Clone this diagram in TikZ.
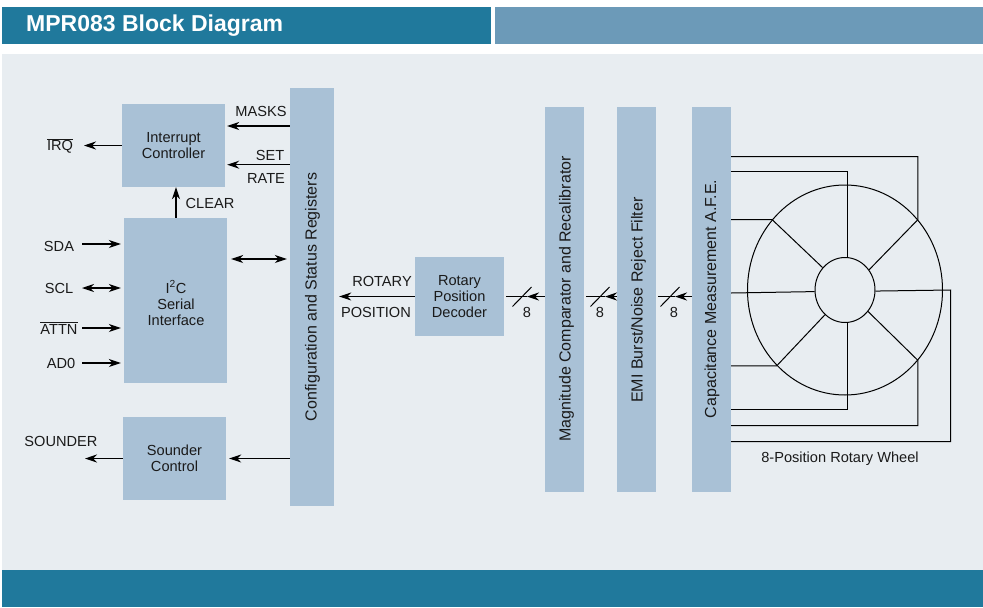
\documentclass[tikz,border=0pt]{standalone}
\usepackage{fontspec}
\setmainfont{Liberation Sans}
\usetikzlibrary{arrows.meta,positioning,shapes.geometric}
\definecolor{headblue}{HTML}{20799C}
\definecolor{headpale}{HTML}{6C9AB8}
\definecolor{panelgrey}{HTML}{E8EDF1}
\definecolor{blockblue}{HTML}{A9C1D6}
\definecolor{inkgrey}{HTML}{1A1A1A}
\tikzset{
    block/.style={fill=blockblue, inner sep=0pt, align=center, font=\fontsize{14.6}{16}\selectfont, text=inkgrey},
    tag/.style={inner sep=0pt, font=\fontsize{14.6}{16}\selectfont, text=inkgrey},
    sidetag/.style={inner sep=0pt, rotate=90, font=\fontsize{16}{18}\selectfont, text=inkgrey},
    sig/.style={draw=black, line width=1.2pt, -{Stealth[length=12pt,width=8pt]}},
    sigboth/.style={draw=black, line width=1.2pt, {Stealth[length=12pt,width=8pt]}-{Stealth[length=12pt,width=8pt]}},
    wire/.style={draw=black, line width=1pt},
    band/.style={inner sep=0pt, minimum height=37pt}
}

\begin{document}
\begin{tikzpicture}[x=1pt, y=-1pt]
    \useasboundingbox (0, 0) rectangle (983, 608);

    % Header and panel
    \fill[panelgrey] (2, 54) rectangle (983, 570);
    \node[band, fill=headblue, minimum width=489pt] (headleft) at (246.5, 25.5) {};
    \node[band, fill=headpale, minimum width=488pt] (headright) at (739, 25.5) {};
    \node[band, fill=headblue, minimum width=981pt] (foot) at (492.5, 588.5) {};
    \node[inner sep=0pt, anchor=west, text=white, font=\fontsize{23}{26}\selectfont\bfseries] (title) at (26, 25.5) {MPR083 Block Diagram};

    % Blocks
    \node[block, minimum width=103pt, minimum height=83pt] (intc) at (173.5, 145.5) {Interrupt\\Controller};
    \node[block, minimum width=103pt, minimum height=165pt] (iic) at (175.5, 300.5) {};
    \node[tag, align=center] (iictext) at (176, 303) {I\textsuperscript{2}C\\Serial\\Interface};
    \node[block, minimum width=103pt, minimum height=83pt] (snd) at (174.5, 458.5) {Sounder\\Control};
    \node[block, minimum width=44pt, minimum height=418pt] (cfg) at (312, 297) {};
    \node[sidetag] (cfgtext) at (312.5, 297) {Configuration and Status Registers};
    \node[block, minimum width=89pt, minimum height=79pt] (dec) at (459.5, 296.5) {Rotary\\Position\\Decoder};
    \node[block, minimum width=39pt, minimum height=385pt] (mag) at (564.5, 299.5) {};
    \node[sidetag] (magtext) at (566.5, 299) {Magnitude Comparator and Recalibrator};
    \node[block, minimum width=39pt, minimum height=385pt] (emi) at (636.5, 299.5) {};
    \node[sidetag] (emitext) at (638.5, 300) {EMI Burst/Noise Reject Filter};
    \node[block, minimum width=39pt, minimum height=385pt] (afe) at (711.5, 299.5) {};
    \node[sidetag] (afetext) at (712, 299) {Capacitance Measurement A.F.E.};

    % Pin labels
    \node[tag] (irq) at (60, 146) {$\overline{\mbox{IRQ}}$};
    \node[tag] (sda) at (59, 246) {SDA};
    \node[tag] (scl) at (59, 288) {SCL};
    \node[tag] (attn) at (59, 328) {$\overline{\mbox{ATTN}}$};
    \node[tag] (adr) at (61, 363) {AD0};
    \node[tag] (sounder) at (61, 441) {SOUNDER};

    % Signal labels
    \node[tag] (masks) at (261, 111) {MASKS};
    \node[tag] (set) at (270, 155) {SET};
    \node[tag] (rate) at (266, 178) {RATE};
    \node[tag] (clear) at (210, 203.5) {CLEAR};
    \node[tag] (rotary) at (382, 281) {ROTARY};
    \node[tag] (position) at (376, 312) {POSITION};

    % Pins
    \coordinate (irqend) at (84, 145.5);
    \coordinate (sdaend) at (82, 244);
    \coordinate (sclend) at (82, 288);
    \coordinate (attnend) at (82, 328);
    \coordinate (adrend) at (82, 363);
    \coordinate (sndend) at (85, 458.5);
    \draw[sig] (intc.west) -- (irqend);
    \draw[sig] (sdaend) -- ([xshift=-3pt]iic.west |- sdaend);
    \draw[sigboth] (sclend) -- ([xshift=-3pt]iic.west |- sclend);
    \draw[sig] (attnend) -- ([xshift=-3pt]iic.west |- attnend);
    \draw[sig] (adrend) -- ([xshift=-3pt]iic.west |- adrend);
    \draw[sig] (snd.west) -- (sndend);

    % Register connections
    \coordinate (maskrow) at (0, 126);
    \coordinate (setrow) at (0, 164.7);
    \coordinate (busrow) at (0, 259);
    \coordinate (clearcol) at (176, 0);
    \draw[sig] (cfg.west |- maskrow) -- ([xshift=2pt]intc.east |- maskrow);
    \draw[sig] (cfg.west |- setrow) -- ([xshift=2pt]intc.east |- setrow);
    \draw[sig] (iic.north -| clearcol) -- (intc.south -| clearcol);
    \draw[sigboth] ([xshift=4pt]iic.east |- busrow) -- ([xshift=-3pt]cfg.west |- busrow);
    \draw[sig] (cfg.west |- snd.east) -- ([xshift=3pt]snd.east);
    \draw[sig] (dec.west) -- ([xshift=5pt]cfg.east |- dec.west);

    % Buses
    \foreach \from/\to/\tip/\cnt in {mag/dec/527/527, emi/mag/605/600, afe/emi/675/674} {
        \coordinate (bus\from) at (\tip, 296.5);
        \draw[sig] (\from.west |- bus\from) -- (bus\from);
        \draw[wire] (bus\from) -- ([xshift=2pt]\to.east |- bus\from);
        \draw[wire] (\tip, 296.5) ++(-14.5, 10) -- ++(19, -19.5);
        \node[tag] (cnt\from) at (\cnt, 312) {8};
    }

    % Wheel
    \node[draw=black, line width=1pt, ellipse, inner sep=0pt, minimum width=195pt, minimum height=210pt] (rim) at (845, 290) {};
    \node[draw=black, line width=1pt, ellipse, inner sep=0pt, minimum width=60pt, minimum height=65pt] (hub) at (845, 290) {};
    \coordinate (wrap) at (950.7, 290);
    \draw[wire] (afe.east |- 0, 156.7) -| (rim.44) -- (hub.40);
    \draw[wire] (afe.east |- 0, 171) -| (hub.86);
    \draw[wire] (afe.east |- rim.136) -- (rim.136) -- (hub.135);
    \draw[wire] (afe.east |- 0, 293) -- (hub.183);
    \draw[wire] (afe.east |- rim.228) -- (rim.228) -- (hub.231);
    \draw[wire] (afe.east |- 0, 409.3) -| (hub.274);
    \draw[wire] (afe.east |- 0, 425.7) -| (rim.316) -- (hub.317);
    \draw[wire] (afe.east |- 0, 441.7) -| (wrap) -- (hub.358);
    \node[tag] (wheel) at (840, 459) {8-Position Rotary Wheel};
\end{tikzpicture}
\end{document}
